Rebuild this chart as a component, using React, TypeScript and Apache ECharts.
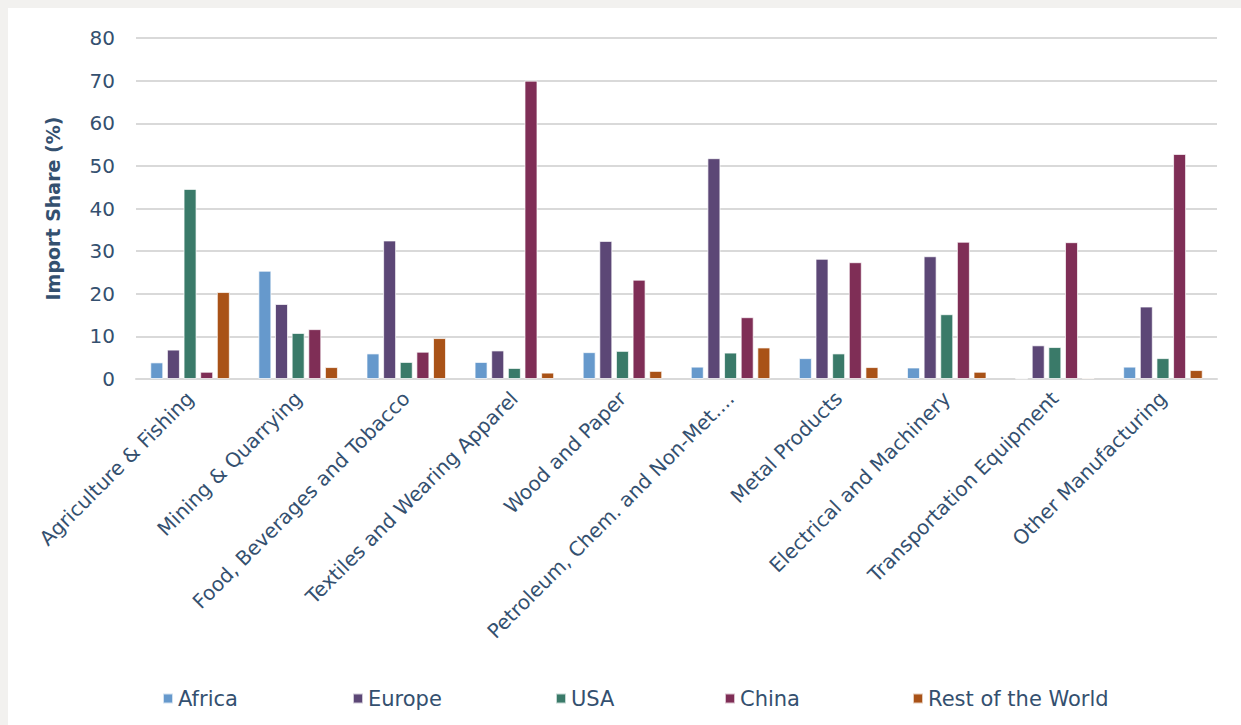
import React, { useEffect, useRef } from "react";
import * as echarts from "echarts";

const categories = [
  "Agriculture & Fishing",
  "Mining & Quarrying",
  "Food, Beverages and Tobacco",
  "Textiles and Wearing Apparel",
  "Wood and Paper",
  "Petroleum, Chem. and Non-Met....",
  "Metal Products",
  "Electrical and Machinery",
  "Transportation Equipment",
  "Other Manufacturing",
];

const seriesNames = ["Africa", "Europe", "USA", "China", "Rest of the World"];

const africa = [3.9, 25.4, 6.0, 4.0, 6.3, 2.9, 4.9, 2.7, 0.15, 2.9];
const europe = [6.9, 17.6, 32.5, 6.7, 32.4, 51.8, 28.2, 28.8, 7.9, 17.0];
const usa = [44.6, 10.8, 4.0, 2.6, 6.6, 6.2, 6.0, 15.2, 7.5, 4.9];
const china = [1.7, 11.7, 6.4, 70.0, 23.3, 14.5, 27.4, 32.2, 32.1, 52.8];
const restOfWorld = [20.4, 2.8, 9.6, 1.5, 1.9, 7.4, 2.8, 1.7, 0.3, 2.1];

const yTicks = [0, 10, 20, 30, 40, 50, 60, 70, 80];

const seriesData = [africa, europe, usa, china, restOfWorld];
const colors = ["#6699CC", "#5C4776", "#3A7A69", "#7F2E56", "#A95217"];
const legendLefts = [154, 344, 547, 716, 904];

const textColor = "#34506F";
const fontFamily = "DejaVu Sans";

export default function App() {
  const ref = useRef<HTMLDivElement>(null);

  useEffect(() => {
    if (!ref.current) return;
    const chart = echarts.init(ref.current, null, { renderer: "svg" });
    chart.setOption({
      animation: false,
      backgroundColor: "#ffffff",
      textStyle: { fontFamily, color: textColor },
      grid: { left: 128, right: 24, top: 30, bottom: 346, containLabel: false },
      legend: seriesNames.map((name, i) => ({
        data: [name],
        left: legendLefts[i],
        top: 680,
        padding: 0,
        icon: "rect",
        itemWidth: 10,
        itemHeight: 10,
        textStyle: { color: textColor, fontSize: 21, fontFamily },
        selectedMode: false,
      })),
      xAxis: {
        type: "category",
        data: categories,
        axisLine: { show: true, lineStyle: { color: "#D9D9D9", width: 2 } },
        axisTick: { show: false },
        axisLabel: {
          rotate: 45,
          interval: 0,
          color: textColor,
          fontSize: 20,
          fontFamily,
          margin: 16,
        },
      },
      yAxis: {
        type: "value",
        min: yTicks[0],
        max: yTicks[yTicks.length - 1],
        interval: 10,
        name: "Import Share (%)",
        nameLocation: "middle",
        nameGap: 74,
        nameRotate: 90,
        nameTextStyle: { color: textColor, fontSize: 19, fontWeight: "bold", fontFamily },
        axisLine: { show: false },
        axisTick: { show: false },
        axisLabel: { color: textColor, fontSize: 20, fontFamily, margin: 21 },
        splitLine: { lineStyle: { color: "#D9D9D9", width: 2 } },
      },
      series: seriesNames.map((name, i) => ({
        name,
        type: "bar",
        data: seriesData[i],
        barWidth: 13,
        barGap: "28%",
        itemStyle: { color: colors[i], borderColor: "rgba(255,255,255,0.7)", borderWidth: 1 },
      })),
    });
    return () => chart.dispose();
  }, []);

  return (
    <div
      style={{
        position: "fixed",
        left: 0,
        top: 0,
        width: 1241,
        height: 725,
        background: "#F2F1EF",
      }}
    >
      <div
        ref={ref}
        style={{ position: "absolute", left: 8, top: 8, width: 1233, height: 717, background: "#fff" }}
      />
    </div>
  );
}
